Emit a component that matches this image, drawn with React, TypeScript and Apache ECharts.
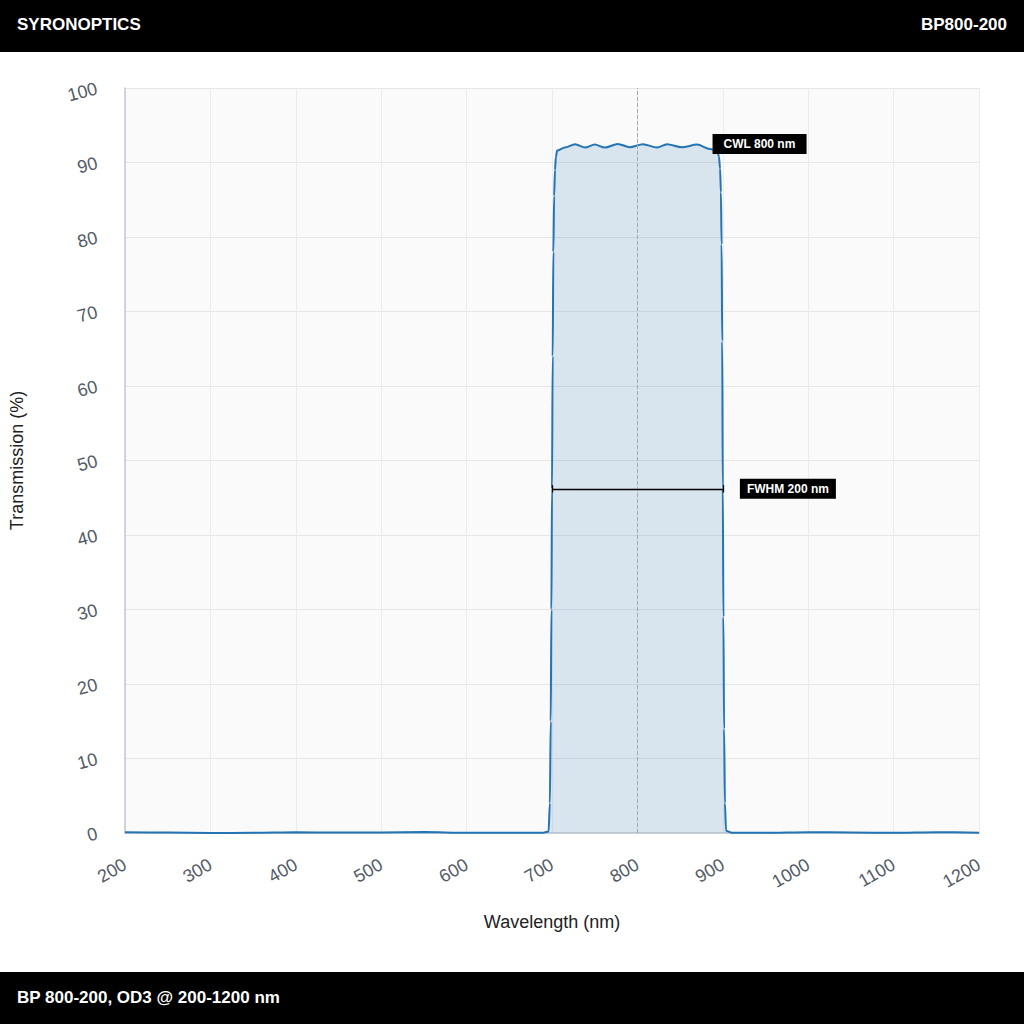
import React, { useEffect, useRef } from "react";
import * as echarts from "echarts";

const wavelengths = [
  200, 250, 300, 350, 400, 450, 500, 550, 600, 650, 690, 696, 697.5, 698.5, 699.3, 700, 700.8, 701.6, 702.5, 703.5, 704.5, 706,
  715, 727, 738.6, 750, 762, 777, 791, 806.5, 823, 834.7, 852, 870, 885, 893.5,
  895.5, 896.8, 897.8, 898.6, 899.3, 900, 900.7, 901.5, 902.5, 903.8, 910, 950, 1000, 1050, 1100, 1150, 1200,
];
const transmission = [
  0.1, 0.06, 0.0, 0.03, 0.1, 0.06, 0.08, 0.12, 0.03, 0.02, 0.05, 0.2, 4, 15, 30, 46.2, 64, 78, 85.5, 89, 90.7, 91.6,
  92.0, 92.45, 92.0, 92.4, 92.0, 92.5, 92.05, 92.45, 92.0, 92.45, 92.05, 92.4, 91.8, 91.6,
  90.8, 89.2, 86, 79, 66, 46.2, 29, 14, 4, 0.3, 0.05, 0.02, 0.1, 0.08, 0.02, 0.1, 0.05,
];
const xTicks = { min: 200, max: 1200, interval: 100 };
const yTicks = { min: 0, max: 100, interval: 10 };
const cwl = 800;
const fwhmLeft = 700;
const fwhmRight = 900;
const fwhmLevel = 46.2;
const cwlLabelAt = [888, 92.5];
const fwhmLabelAt = [920, 46.2];

const headerLeft = "SYRONOPTICS";
const headerRight = "BP800-200";
const footerText = "BP 800-200, OD3 @ 200-1200 nm";

export default function App() {
  const ref = useRef<HTMLDivElement>(null);
  useEffect(() => {
    if (!ref.current) return;
    const chart = echarts.init(ref.current, null, { renderer: "svg" });
    const font = "'Liberation Sans', Arial, Helvetica, sans-serif";
    const data = wavelengths.map((w, i) => [w, transmission[i]]);
    const boxLabel = {
      show: true,
      position: "right",
      distance: 0,
      color: "#fff",
      backgroundColor: "#000",
      fontFamily: font,
      fontWeight: "bold",
      fontSize: 12,
      lineHeight: 12,
    };
    chart.setOption({
      animation: false,
      backgroundColor: "#fff",
      textStyle: { fontFamily: font },
      grid: {
        left: 125,
        right: 45,
        top: 88,
        bottom: 191,
        show: true,
        backgroundColor: "#fafafa",
        borderWidth: 0,
        containLabel: false,
        outerBoundsMode: "none",
      },
      graphic: [
        { type: "rect", shape: { x: 0, y: 0, width: 1024, height: 52 }, style: { fill: "#000" }, z: 10 },
        { type: "rect", shape: { x: 0, y: 972, width: 1024, height: 52 }, style: { fill: "#000" }, z: 10 },
        {
          type: "text", x: 17, y: 24, z: 11,
          style: { text: headerLeft, fill: "#fff", font: `bold 17px ${font}`, verticalAlign: "middle", align: "left" },
        },
        {
          type: "text", x: 1007, y: 24, z: 11,
          style: { text: headerRight, fill: "#fff", font: `bold 17px ${font}`, verticalAlign: "middle", align: "right" },
        },
        {
          type: "text", x: 17, y: 997, z: 11,
          style: { text: footerText, fill: "#fff", font: `bold 17px ${font}`, verticalAlign: "middle", align: "left" },
        },
      ],
      xAxis: {
        type: "value",
        min: xTicks.min,
        max: xTicks.max,
        interval: xTicks.interval,
        name: "Wavelength (nm)",
        nameLocation: "middle",
        nameGap: 80,
        nameTextStyle: { color: "#222", fontSize: 18, fontFamily: font },
        axisLine: { show: true, lineStyle: { color: "#c3c8d0", width: 1.5 } },
        axisTick: { show: false },
        axisLabel: {
          rotate: 30,
          margin: 30,
          color: "#535a66",
          fontSize: 18,
          fontFamily: font,
          formatter: (v: number) => String(v),
        },
        splitLine: { show: true, lineStyle: { color: "#ececec", width: 1 } },
      },
      yAxis: {
        type: "value",
        min: yTicks.min,
        max: yTicks.max,
        interval: yTicks.interval,
        name: "Transmission (%)",
        nameLocation: "middle",
        nameGap: 99,
        nameRotate: 90,
        nameTextStyle: { color: "#222", fontSize: 18, fontFamily: font },
        axisLine: { show: true, lineStyle: { color: "#c3c8d0", width: 1.5 } },
        axisTick: { show: false },
        axisLabel: {
          rotate: 15,
          margin: 28,
          color: "#535a66",
          fontSize: 18,
          fontFamily: font,
          formatter: (v: number) => String(v),
        },
        splitLine: { show: true, lineStyle: { color: "#e6e6e6", width: 1 } },
      },
      series: [
        {
          type: "line",
          data,
          smooth: 0.3,
          smoothMonotone: "x",
          showSymbol: false,
          symbol: "none",
          lineStyle: { color: "#2274b5", width: 2 },
          areaStyle: { color: "rgba(34,116,181,0.22)" },
          z: 3,
          markLine: {
            silent: true,
            symbol: "none",
            label: { show: false },
            data: [
              { xAxis: cwl, lineStyle: { type: "dashed", color: "#a8a8a8", width: 1 } },
              [
                { coord: [fwhmLeft, fwhmLevel], lineStyle: { color: "#000", width: 1.3, type: "solid" } },
                { coord: [fwhmRight, fwhmLevel] },
              ],
              [
                { coord: [fwhmLeft, fwhmLevel - 0.5], lineStyle: { color: "#000", width: 1.3, type: "solid" } },
                { coord: [fwhmLeft, fwhmLevel + 0.5] },
              ],
              [
                { coord: [fwhmRight, fwhmLevel - 0.5], lineStyle: { color: "#000", width: 1.3, type: "solid" } },
                { coord: [fwhmRight, fwhmLevel + 0.5] },
              ],
            ],
          },
          markPoint: {
            silent: true,
            symbol: "rect",
            symbolSize: 0,
            data: [
              { coord: cwlLabelAt, label: { ...boxLabel, padding: [4, 11, 4, 11], formatter: "CWL 800 nm" } },
              { coord: fwhmLabelAt, label: { ...boxLabel, padding: [4, 7, 4, 7], formatter: "FWHM 200 nm" } },
            ],
          },
        },
      ],
    });
    return () => chart.dispose();
  }, []);
  return (
    <div
      ref={ref}
      style={{ position: "absolute", left: 0, top: 0, width: 1024, height: 1024 }}
    />
  );
}
